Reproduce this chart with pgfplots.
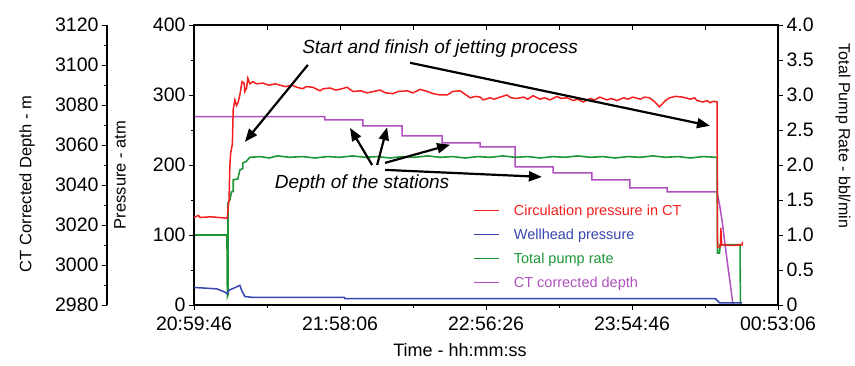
\documentclass[border=0pt]{standalone}
\usepackage{fontspec}
\setmainfont{Liberation Sans}
\usepackage{pgfplots}
\pgfplotsset{compat=1.18}
\usetikzlibrary{arrows.meta}
\definecolor{cred}{RGB}{245,30,30}
\definecolor{cblue}{RGB}{55,70,175}
\definecolor{cgreen}{RGB}{30,150,55}
\definecolor{cpurple}{RGB}{175,80,190}
\pgfplotsset{base/.style={scale only axis, width=584pt, height=280pt, xmin=0, xmax=14,
  at={(0pt,0pt)}, anchor=south west, /pgf/number format/assume math mode=true,
  /pgf/number format/set thousands separator={},
  tick label style={font=\fontsize{19.5}{21}\selectfont},
  axis line style={line width=1.2pt}, every tick/.style={black, line width=0.9pt},
  tick align=outside, major tick length=5pt, minor tick length=3pt}}
\begin{document}
\begin{tikzpicture}
\useasboundingbox (-194pt,-61pt) rectangle (661pt,305pt);
% depth data
\begin{axis}[base, hide axis, ymin=2980, ymax=3120]
\addplot[cpurple, line width=1.5pt] coordinates {
(0,3074.2) (3.14,3074.2) (3.14,3072.5) (4.05,3072.5) (4.05,3069.5) (4.99,3069.5) (4.99,3064.5)
(5.95,3064.5) (5.95,3061) (6.86,3061) (6.86,3059) (7.70,3059) (7.70,3049) (8.61,3049) (8.61,3046)
(9.54,3046) (9.54,3042.5) (10.45,3042.5) (10.45,3038.5) (11.34,3038.5) (11.34,3036.5) (12.54,3036.5)
(12.6,3030) (12.66,3022) (12.72,3012) (12.8,2999) (12.86,2990) (12.92,2980)};
\end{axis}
% depth scale
\begin{axis}[base, width=20pt, at={(-87pt,0pt)}, axis y line*=left, axis x line=none,
  xmin=0, xmax=1, ymin=2980, ymax=3120, ytick={2980,3000,...,3120}, minor y tick num=1]
\addplot[draw=none] coordinates {(0.5,3000)};
\end{axis}
% pump rate
\begin{axis}[base, axis y line*=right, axis x line=none, ymin=0, ymax=4,
  ytick={0,0.5,...,4}, yticklabels={0,0.5,1.0,1.5,2.0,2.5,3.0,3.5,4.0}]
\addplot[cgreen, line width=1.6pt] coordinates {
(0,1.0) (0.79,1.0) (0.80,0.12) (0.815,0.14) (0.815,1.46) (0.86,1.5) (0.9,1.62) (0.94,1.62)
(0.94,1.79) (1.05,1.80) (1.10,1.93) (1.17,1.95) (1.17,2.03) (1.25,2.05) (1.34,2.11)
(1.6,2.12) (1.8,2.10) (2.0,2.13) (2.3,2.11) (2.6,2.12) (2.9,2.10) (3.2,2.12) (3.5,2.11)
(3.8,2.13) (4.1,2.11) (4.4,2.12) (4.7,2.10) (5.0,2.12) (5.3,2.11) (5.6,2.13) (5.9,2.11)
(6.2,2.12) (6.5,2.10) (6.8,2.12) (7.1,2.11) (7.4,2.13) (7.7,2.11) (8.0,2.12) (8.3,2.10)
(8.6,2.12) (8.9,2.11) (9.2,2.13) (9.5,2.11) (9.8,2.12) (10.1,2.10) (10.4,2.12) (10.7,2.11)
(11.0,2.13) (11.3,2.11) (11.6,2.12) (11.9,2.10) (12.2,2.12) (12.54,2.11)
(12.55,0.74) (12.60,0.74) (12.61,0.86) (13.09,0.86) (13.10,0.0)};
\end{axis}
% main pressure axis
\begin{axis}[base, ymin=0, ymax=400, ytick={0,100,...,400}, minor y tick num=1, ytick pos=left,
  xtick={0,3.5,7,10.5,14}, xticklabels={20:59:46,21:58:06,22:56:26,23:54:46,00:53:06},
  xtick pos=left, minor x tick num=1, xticklabel style={yshift=-3pt},
  extra x ticks={1.75,3.5,5.25,7,8.75,10.5,12.25}, extra x tick labels={},
  extra x tick style={xtick pos=right, tick align=inside, major tick length=5pt},
  legend style={draw=none, fill=none, at={(0.478,0.366)}, anchor=north west,
    font=\fontsize{14.5}{16}\selectfont, row sep=8pt, inner sep=0pt,
    /tikz/every odd column/.append style={column sep=12pt}},
  legend cell align=left,
  legend image code/.code={\draw[#1, line width=1.5pt] (0pt,0pt) -- (25pt,0pt);}]
\addlegendimage{cred}\addlegendentry{\textcolor{cred}{Circulation pressure in CT}}
\addlegendimage{cblue}\addlegendentry{\textcolor{cblue}{Wellhead pressure}}
\addlegendimage{cgreen}\addlegendentry{\textcolor{cgreen}{Total pump rate}}
\addlegendimage{cpurple}\addlegendentry{\textcolor{cpurple}{CT corrected depth}}
\addplot[cblue, line width=1.5pt, forget plot] coordinates {
(0,25) (0.3,24) (0.55,23) (0.72,19) (0.80,16) (0.84,21) (0.95,24) (1.10,28) (1.15,20) (1.22,12)
(1.4,11) (3.6,11) (3.62,9) (12.5,9) (12.6,3) (13.14,3)};
\addplot[cred, line width=1.5pt, forget plot] coordinates {
(0,125) (0.1,128) (0.15,125) (0.4,126) (0.79,124) (0.80,125) (0.82,140) (0.84,150) (0.86,200)
(0.88,217) (0.92,230) (0.94,279) (0.98,293) (1.02,285) (1.06,290) (1.10,300) (1.15,319) (1.2,317)
(1.22,305) (1.26,310) (1.29,324) (1.34,316) (1.41,319) (1.5,316) (1.65,317) (1.8,314) (1.95,316)
(2.06,314) (2.2,312) (2.35,314) (2.47,311) (2.6,309) (2.7,312) (2.85,311) (3.02,306) (3.1,309)
(3.26,310) (3.4,307) (3.55,309) (3.67,311) (3.81,305) (4.0,306) (4.15,303) (4.3,305) (4.46,307)
(4.6,303) (4.77,302) (4.9,305) (5.11,306) (5.25,303) (5.42,308) (5.6,305) (5.73,302) (5.9,300)
(6.07,300) (6.2,305) (6.38,306) (6.5,301) (6.62,296) (6.75,298) (6.86,297) (6.93,293) (7.1,296)
(7.2,294) (7.34,297) (7.5,300) (7.6,296) (7.74,295) (7.9,297) (8.0,294) (8.13,299) (8.3,294)
(8.4,296) (8.54,293) (8.7,298) (8.8,295) (8.94,296) (9.1,292) (9.2,294) (9.33,290) (9.5,295)
(9.6,293) (9.73,297) (9.9,293) (10.0,295) (10.14,292) (10.3,296) (10.4,294) (10.52,297)
(10.7,294) (10.8,297) (10.92,296) (11.05,290) (11.16,283) (11.3,292) (11.4,296) (11.55,298)
(11.72,297) (11.9,294) (12.0,296) (12.06,292) (12.2,290) (12.3,292) (12.37,289) (12.45,291)
(12.54,290) (12.55,83) (12.62,83) (12.63,110) (12.65,86) (12.9,85) (13.14,86) (13.15,90)};
\draw[-{Triangle[length=13pt,width=10pt]}, line width=2.2pt] (axis cs:2.73,343) -- (axis cs:1.22,233);
\draw[-{Triangle[length=13pt,width=10pt]}, line width=2.2pt] (axis cs:5.18,346) -- (axis cs:12.37,256);
\draw[-{Triangle[length=13pt,width=10pt]}, line width=2.2pt] (axis cs:4.27,200) -- (axis cs:3.74,253);
\draw[-{Triangle[length=13pt,width=10pt]}, line width=2.2pt] (axis cs:4.39,200) -- (axis cs:4.63,254);
\draw[-{Triangle[length=13pt,width=10pt]}, line width=2.2pt] (axis cs:4.58,203) -- (axis cs:6.14,229);
\draw[-{Triangle[length=13pt,width=10pt]}, line width=2.2pt] (axis cs:4.58,193) -- (axis cs:8.34,183);
\node[font=\fontsize{19}{20}\selectfont\itshape] at (axis cs:5.90,367) {Start and finish of jetting process};
\node[font=\fontsize{19}{20}\selectfont\itshape] at (axis cs:4.03,173) {Depth of the stations};
\end{axis}
\node[rotate=90, font=\fontsize{16.5}{18}\selectfont] at (-167pt,121pt) {CT Corrected Depth - m};
\node[rotate=90, font=\fontsize{16.5}{18}\selectfont] at (-74pt,130pt) {Pressure - atm};
\node[rotate=-90, font=\fontsize{16}{18}\selectfont] at (649pt,169pt) {Total Pump Rate - bbl/min};
\node[font=\fontsize{18}{20}\selectfont] at (266pt,-45pt) {Time - hh:mm:ss};
\end{tikzpicture}
\end{document}
